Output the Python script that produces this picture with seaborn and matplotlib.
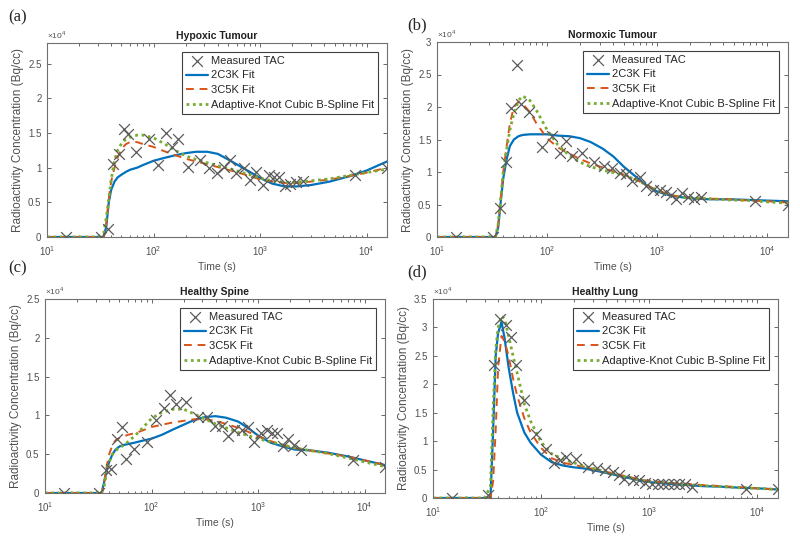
"""
Four-panel TAC fits (hypoxic/normoxic tumour, spine, lung) on a log time axis
"""

import numpy as np
import matplotlib
matplotlib.use('Agg')
import matplotlib.pyplot as plt
from matplotlib.ticker import LogLocator, NullFormatter, MultipleLocator
import seaborn as sns

# --- data (concentration in units of 10^4 Bq/cc) ---
# frame mid-times of the measured TAC (s)
time_s = [15, 32, 37, 42, 47, 53, 58, 69, 90, 111, 131, 150, 170, 210, 270, 330,
          390, 460, 520, 590, 700, 800, 920, 1060, 1200, 1350, 1500, 1700, 1900,
          2150, 2500, 7800, 15500]

meas_hypoxic = [0, 0, 0.12, 1.05, 1.2, 1.56, 1.49, 1.23, 1.42, 1.04, 1.5, 1.3, 1.42,
                1.01, 1.11, 1.0, 0.92, 1.01, 1.11, 0.92, 0.99, 0.82, 0.94, 0.75, 0.89,
                0.87, 0.86, 0.74, 0.76, 0.79, 0.81, 0.9, 1.0]
meas_normoxic = [0, 0, 0.45, 1.16, 1.98, 2.64, 2.04, 1.93, 1.39, 1.55, 1.29, 1.47, 1.24,
                 1.29, 1.16, 1.09, 1.06, 0.98, 0.97, 0.86, 0.92, 0.78, 0.72, 0.72, 0.70,
                 0.64, 0.58, 0.68, 0.62, 0.59, 0.61, 0.56, 0.5]
meas_spine = [0, 0, 0.29, 0.31, 0.69, 0.85, 0.44, 0.57, 0.66, 0.94, 1.1, 1.26, 1.15,
              1.17, 0.98, 0.98, 0.86, 0.86, 0.74, 0.81, 0.81, 0.85, 0.66, 0.77, 0.81,
              0.77, 0.77, 0.6, 0.7, 0.62, 0.55, 0.42, 0.34]
meas_lung = [0, 0.05, 2.34, 3.15, 3.05, 2.83, 2.34, 1.72, 1.12, 0.87, 0.61, 0.66, 0.72,
             0.68, 0.55, 0.52, 0.5, 0.46, 0.4, 0.34, 0.32, 0.31, 0.26, 0.25, 0.25,
             0.25, 0.25, 0.25, 0.24, 0.25, 0.2, 0.165, 0.15]

# time points (s)
fit_time = [10, 30, 34, 36, 38, 40, 43, 46, 50, 55, 60, 70, 80, 100, 125, 160, 200,
            250, 320, 400, 500, 650, 800, 1000, 1300, 1700, 2200, 3000, 4500, 7000,
            10000, 15500]

hyp_2c3k = [0, 0, 0, 0.15, 0.5, 0.68, 0.8, 0.86, 0.9, 0.94, 0.97, 1.0, 1.04, 1.1, 1.14,
            1.18, 1.21, 1.23, 1.23, 1.2, 1.12, 1.02, 0.94, 0.85, 0.77, 0.73, 0.73,
            0.75, 0.8, 0.88, 0.96, 1.09]
hyp_3c5k = [0, 0, 0, 0.2, 0.55, 0.8, 1.0, 1.15, 1.27, 1.34, 1.37, 1.37, 1.34, 1.3, 1.24,
            1.18, 1.13, 1.09, 1.05, 1.01, 0.97, 0.92, 0.88, 0.83, 0.8, 0.78, 0.78,
            0.8, 0.83, 0.88, 0.93, 1.0]
hyp_spline = [0, 0, 0.05, 0.28, 0.55, 0.83, 1.1, 1.25, 1.35, 1.41, 1.44, 1.47, 1.47,
              1.43, 1.35, 1.25, 1.17, 1.12, 1.07, 1.03, 0.99, 0.94, 0.9, 0.85, 0.81,
              0.79, 0.79, 0.81, 0.84, 0.89, 0.93, 0.98]

nor_2c3k = [0, 0, 0, 0.15, 0.55, 0.9, 1.2, 1.4, 1.5, 1.55, 1.57, 1.58, 1.58, 1.58, 1.56,
            1.55, 1.52, 1.46, 1.36, 1.24, 1.08, 0.92, 0.8, 0.7, 0.64, 0.61, 0.59, 0.58,
            0.58, 0.57, 0.56, 0.55]
nor_3c5k = [0, 0, 0, 0.2, 0.6, 1.0, 1.4, 1.75, 2.0, 2.08, 2.05, 1.92, 1.75, 1.52, 1.38,
            1.28, 1.2, 1.13, 1.07, 1.01, 0.96, 0.88, 0.8, 0.72, 0.65, 0.61, 0.6, 0.59,
            0.58, 0.56, 0.55, 0.53]
nor_spline = [0, 0, 0, 0.2, 0.6, 1.0, 1.35, 1.65, 1.9, 2.1, 2.17, 2.1, 1.95, 1.65, 1.42,
              1.25, 1.15, 1.08, 1.03, 0.99, 0.95, 0.88, 0.8, 0.72, 0.65, 0.61, 0.6,
              0.59, 0.57, 0.56, 0.54, 0.52]

spi_2c3k = [0, 0, 0, 0.15, 0.3, 0.4, 0.5, 0.56, 0.6, 0.62, 0.63, 0.65, 0.67, 0.7, 0.75,
            0.82, 0.88, 0.94, 0.98, 0.99, 0.97, 0.92, 0.84, 0.74, 0.65, 0.6, 0.56,
            0.55, 0.52, 0.47, 0.42, 0.36]
spi_3c5k = [0, 0, 0, 0.15, 0.35, 0.5, 0.62, 0.68, 0.71, 0.73, 0.75, 0.77, 0.8, 0.85,
            0.88, 0.91, 0.93, 0.95, 0.95, 0.93, 0.89, 0.84, 0.79, 0.73, 0.67, 0.62,
            0.58, 0.55, 0.51, 0.47, 0.42, 0.36]
spi_spline = [0, 0, 0, 0.1, 0.28, 0.4, 0.5, 0.55, 0.58, 0.62, 0.66, 0.74, 0.82, 0.96,
              1.04, 1.08, 1.08, 1.02, 0.95, 0.89, 0.84, 0.78, 0.74, 0.7, 0.66, 0.62,
              0.58, 0.55, 0.51, 0.45, 0.4, 0.34]

lun_2c3k = [0, 0, 0, 1.2, 2.5, 2.9, 3.1, 2.8, 2.3, 1.85, 1.5, 1.15, 0.97, 0.76, 0.63,
            0.57, 0.54, 0.52, 0.48, 0.44, 0.4, 0.35, 0.31, 0.28, 0.26, 0.24, 0.23,
            0.21, 0.2, 0.18, 0.17, 0.15]
lun_3c5k = [0, 0, 0, 0.3, 1.2, 2.3, 2.85, 2.75, 2.5, 2.1, 1.8, 1.4, 1.15, 0.88, 0.7,
            0.62, 0.58, 0.55, 0.5, 0.46, 0.42, 0.37, 0.33, 0.3, 0.28, 0.26, 0.25,
            0.23, 0.21, 0.19, 0.17, 0.15]
lun_spline = [0, 0, 0.2, 1.6, 2.6, 3.0, 3.2, 3.15, 2.85, 2.5, 2.2, 1.65, 1.35, 0.98,
              0.78, 0.68, 0.62, 0.56, 0.51, 0.46, 0.41, 0.36, 0.32, 0.29, 0.27, 0.25,
              0.24, 0.22, 0.2, 0.18, 0.17, 0.15]

panel_titles = ['Hypoxic Tumour', 'Normoxic Tumour', 'Healthy Spine', 'Healthy Lung']
panel_letters = ['(a)', '(b)', '(c)', '(d)']
panel_ymax = [2.8, 3.0, 2.5, 3.5]
model_names = ['2C3K Fit', '3C5K Fit', 'Adaptive-Knot Cubic B-Spline Fit']

# --- style ---
sns.set_style('ticks', {'xtick.direction': 'in', 'ytick.direction': 'in'})
plt.rcParams['font.family'] = ['Liberation Sans', 'DejaVu Sans']
plt.rcParams['mathtext.fontset'] = 'custom'
plt.rcParams['mathtext.rm'] = 'Liberation Sans'

AX_COLOR = '#505050'
BLUE, RED, GREEN = '#0072BD', '#D95319', '#77AC30'
MARK = '#5a5a5a'

# axes boxes in pixels: left, top, right, bottom
boxes = [(47, 43, 387, 237), (437, 42, 788, 237),
         (45, 299, 385, 493), (433, 299, 778, 498)]
letter_pos = [(8, 17), (407, 25), (8, 268), (407, 272)]

W, H = 800, 547
fig = plt.figure(figsize=(W / 100, H / 100), dpi=100)

panels = [
    (meas_hypoxic, hyp_2c3k, hyp_3c5k, hyp_spline),
    (meas_normoxic, nor_2c3k, nor_3c5k, nor_spline),
    (meas_spine, spi_2c3k, spi_3c5k, spi_spline),
    (meas_lung, lun_2c3k, lun_3c5k, lun_spline),
]

for i, (meas, f1, f2, f3) in enumerate(panels):
    l, t, r, b = boxes[i]
    ax = fig.add_axes([l / W, 1 - b / H, (r - l) / W, (b - t) / H])

    sns.lineplot(x=fit_time, y=f1, ax=ax, color=BLUE, lw=1.6, sort=False,
                 errorbar=None, label=model_names[0])
    sns.lineplot(x=fit_time, y=f2, ax=ax, color=RED, lw=1.4, linestyle=(0, (4, 3)),
                 sort=False, errorbar=None, label=model_names[1])
    sns.lineplot(x=fit_time, y=f3, ax=ax, color=GREEN, lw=2.0, linestyle=(0, (1, 1.3)),
                 sort=False, errorbar=None, label=model_names[2])
    sns.scatterplot(x=time_s, y=meas, ax=ax, marker='x', s=60, color=MARK,
                    linewidth=0.9, label='Measured TAC', zorder=5)

    ax.set_xscale('log')
    ax.set_xlim(10, time_s[-1])
    ax.set_ylim(0, panel_ymax[i])
    ax.yaxis.set_major_locator(MultipleLocator(0.5))
    ax.yaxis.set_major_formatter(plt.FuncFormatter(lambda v, p: f'{v:g}'))
    ax.xaxis.set_major_locator(LogLocator(base=10, numticks=10))
    ax.xaxis.set_minor_locator(LogLocator(base=10, subs=np.arange(2, 10), numticks=20))
    ax.xaxis.set_minor_formatter(NullFormatter())

    ax.tick_params(which='both', direction='in', top=True, right=True,
                   colors=AX_COLOR, labelsize=7, width=0.6)
    ax.tick_params(which='major', length=3)
    ax.tick_params(which='minor', length=1.8)
    ax.tick_params(axis='x', pad=5)
    ax.tick_params(axis='y', pad=4)
    for sp in ax.spines.values():
        sp.set_visible(True)
        sp.set_color('#707070')
        sp.set_linewidth(0.8)

    ax.set_title(panel_titles[i], fontsize=7.5, fontweight='bold', pad=3, color='#202020')
    ax.set_xlabel('Time (s)', fontsize=7.5, color=AX_COLOR, labelpad=3)
    ax.set_ylabel('Radioactivity Concentration (Bq/cc)', fontsize=8.5,
                  color=AX_COLOR, labelpad=3)
    ax.text(0, 1.012, r'$\times10^{4}$', transform=ax.transAxes, fontsize=6,
            color=AX_COLOR, ha='left', va='bottom')

    handles, labels = ax.get_legend_handles_labels()
    order = [labels.index('Measured TAC')] + [labels.index(m) for m in model_names]
    leg = ax.legend([handles[k] for k in order], [labels[k] for k in order],
                    loc='upper right', fontsize=8, frameon=True, fancybox=False,
                    framealpha=1, edgecolor='#404040', borderpad=0.35,
                    labelspacing=0.42, handlelength=2.0, handletextpad=0.3,
                    borderaxespad=0.8)
    leg.get_frame().set_linewidth(0.8)

    lx, ly = letter_pos[i]
    fig.text(lx / W, 1 - ly / H, panel_letters[i], fontsize=12,
             family=['Liberation Serif', 'DejaVu Serif'], va='center', ha='left')

fig.savefig('out.png', dpi=100)
